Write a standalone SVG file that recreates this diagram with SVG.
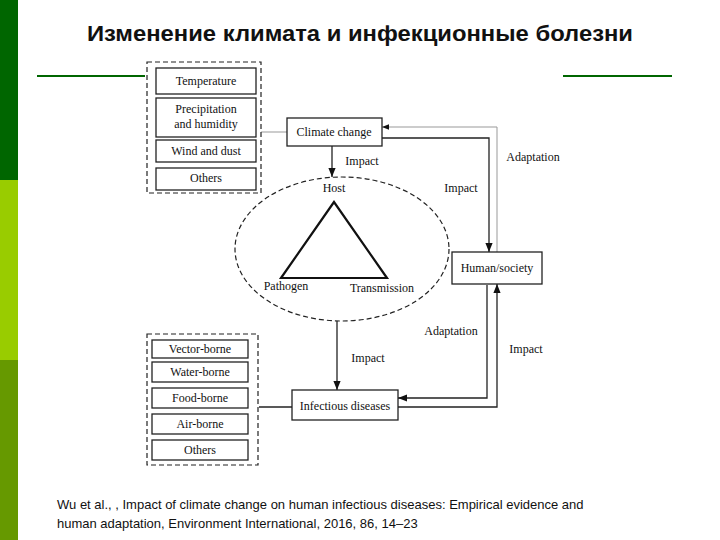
<svg xmlns="http://www.w3.org/2000/svg" width="720" height="540" viewBox="0 0 720 540">
<style>
.b{fill:#fff;stroke:#222;stroke-width:1.3}
.d{fill:none;stroke:#222;stroke-width:1.2;stroke-dasharray:5,3}
.t{font-family:"Liberation Serif",serif;font-size:12px;fill:#111;text-anchor:middle}
.l{fill:none;stroke:#222;stroke-width:1.3}
.g{fill:none;stroke:#999;stroke-width:1}
</style>
<defs><marker id="a" viewBox="0 0 10 10" refX="10" refY="5" markerWidth="7" markerHeight="7" orient="auto"><path d="M0,1L10,5L0,9z" fill="#111"/></marker></defs>
<rect width="720" height="540" fill="#fff"/>
<rect x="0" y="0" width="18" height="180" fill="#006600"/>
<rect x="0" y="180" width="18" height="180" fill="#99cc00"/>
<rect x="0" y="360" width="18" height="180" fill="#669900"/>
<line x1="37" y1="76" x2="145" y2="76" stroke="#006600" stroke-width="2"/>
<line x1="563" y1="76" x2="672" y2="76" stroke="#006600" stroke-width="2"/>
<text x="360" y="41" font-family="'Liberation Sans',sans-serif" font-size="22" font-weight="bold" text-anchor="middle" fill="#111" textLength="546" lengthAdjust="spacingAndGlyphs">Изменение климата и инфекционные болезни</text>
<g id="connectors">
<line class="g" x1="261" y1="132" x2="287" y2="132"/>
<line class="l" x1="332" y1="146" x2="332" y2="177" marker-end="url(#a)"/>
<polyline class="l" points="382,138 489,138 489,252" marker-end="url(#a)"/>
<polyline class="g" points="497,252 497,127 382,127" marker-end="url(#a)"/>
<line class="l" x1="337" y1="321" x2="337" y2="390" marker-end="url(#a)"/>
<polyline class="l" points="487,285 487,398 398,398" marker-end="url(#a)"/>
<polyline class="l" points="398,407 497,407 497,284" marker-end="url(#a)"/>
<line class="l" x1="259" y1="407" x2="292" y2="407"/>
</g>
<g class="t">
<text x="362" y="165">Impact</text>
<text x="461" y="192">Impact</text>
<text x="533" y="161">Adaptation</text>
<text x="451" y="335">Adaptation</text>
<text x="368" y="362">Impact</text>
<text x="526" y="353">Impact</text>
</g>
<g id="climate-factors">
<rect class="d" x="147" y="62" width="114" height="131"/>
<rect class="b" x="156" y="68" width="100" height="26"/><text class="t" x="206" y="85">Temperature</text>
<rect class="b" x="156" y="98" width="100" height="39"/><text class="t" x="206" y="113">Precipitation</text><text class="t" x="206" y="128">and humidity</text>
<rect class="b" x="156" y="140" width="100" height="22"/><text class="t" x="206" y="155">Wind and dust</text>
<rect class="b" x="156" y="168" width="100" height="22"/><text class="t" x="206" y="182">Others</text>
</g>
<g id="climate-change"><rect class="b" x="287" y="118" width="95" height="28"/><text class="t" x="334" y="136">Climate change</text></g>
<g id="triad">
<ellipse class="d" cx="342" cy="249" rx="107" ry="72"/>
<polygon points="334,202 281,278 387,278" fill="none" stroke="#111" stroke-width="2.2"/>
<text class="t" x="334" y="192">Host</text>
<text class="t" x="286" y="290">Pathogen</text>
<text class="t" x="382" y="292">Transmission</text>
</g>
<g id="human"><rect class="b" x="452" y="252" width="90" height="32"/><text class="t" x="497" y="272">Human/society</text></g>
<g id="infectious"><rect class="b" x="292" y="390" width="106" height="30"/><text class="t" x="345" y="410">Infectious diseases</text></g>
<g id="disease-types">
<rect class="d" x="147" y="334" width="111" height="131"/>
<rect class="b" x="152" y="340" width="96" height="18"/><text class="t" x="200" y="353">Vector-borne</text>
<rect class="b" x="152" y="362" width="96" height="20"/><text class="t" x="200" y="376">Water-borne</text>
<rect class="b" x="152" y="388" width="96" height="20"/><text class="t" x="200" y="402">Food-borne</text>
<rect class="b" x="152" y="414" width="96" height="20"/><text class="t" x="200" y="428">Air-borne</text>
<rect class="b" x="152" y="440" width="96" height="20"/><text class="t" x="200" y="454">Others</text>
</g>
<g font-family="'Liberation Sans',sans-serif" font-size="13" fill="#111">
<text x="57" y="509">Wu et al., , Impact of climate change on human infectious diseases: Empirical evidence and</text>
<text x="57" y="528">human adaptation, Environment International, 2016, 86, 14–23</text>
</g>
</svg>
